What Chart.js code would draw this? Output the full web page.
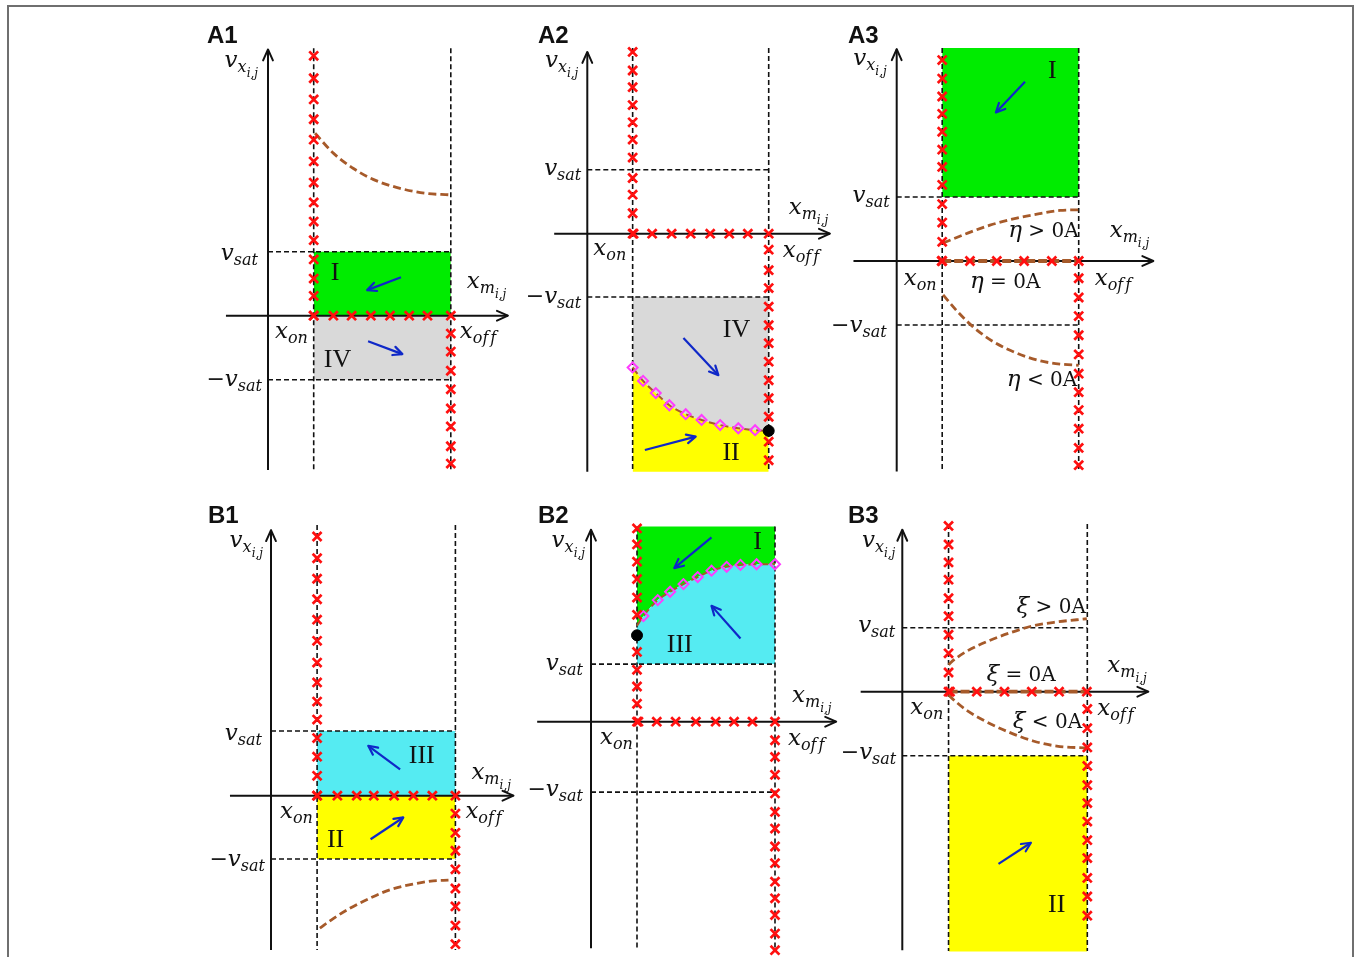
<!DOCTYPE html>
<html>
<head>
<meta charset="utf-8">
<script src="https://cdn.jsdelivr.net/npm/chart.js@4.4.1/dist/chart.umd.min.js"></script>
<style>
  html, body { margin: 0; padding: 0; background: #fff; width: 1356px; height: 957px; overflow: hidden; }
  #frame { position: absolute; left: 7px; top: 5px; width: 1347px; height: 1000px; border: 2px solid #6f6f6f; box-sizing: border-box; }
  canvas { position: absolute; }
</style>
</head>
<body>
<div id="frame"></div>
<script>
// Normalised coordinates: x_on = 1, x_off = 4, v_sat = 1 (y = 0 on the x_m axis)
const X_ON = 1, X_OFF = 4;

// ---------- A1 ----------
const A1_LEVELS = [1, -1];
const A1_XON_MARKS = [4.06, 3.71, 3.38, 3.07, 2.75, 2.41, 2.08, 1.77, 1.47, 1.18, 0.88, 0.58, 0.31, 0];
const A1_AXIS_MARKS = [1.0, 1.43, 1.83, 2.25, 2.67, 3.09, 3.49, 4.0];
const A1_XOFF_MARKS = [-0.28, -0.56, -0.86, -1.15, -1.45, -1.73, -2.04, -2.31];
const A1_CURVE_X = [1.03, 1.43, 1.87, 2.30, 2.89, 3.47, 3.95];
const A1_CURVE_Y = [2.85, 2.54, 2.30, 2.13, 1.99, 1.91, 1.89];
const A1_ARROWS = [[2.91, 0.60, 2.17, 0.40], [2.19, -0.40, 2.94, -0.60]];
const A1_ROMAN = [['I', 1.47, 0.66], ['IV', 1.52, -0.69]];

// ---------- A2 ----------
const A2_LEVELS = [1, -0.99];
const A2_XON_MARKS = [2.84, 2.55, 2.29, 2.01, 1.74, 1.47, 1.19, 0.87, 0.61, 0.32, 0];
const A2_AXIS_MARKS = [1.02, 1.43, 1.86, 2.28, 2.71, 3.13, 3.54, 4.0];
const A2_XOFF_MARKS = [-0.25, -0.57, -0.85, -1.14, -1.43, -1.71, -2.0, -2.29, -2.57, -2.86, -3.25, -3.54];
const A2_BOUND_X = [1.0, 1.23, 1.51, 1.81, 2.17, 2.52, 2.93, 3.33, 3.70, 4.0];
const A2_BOUND_Y = [-2.09, -2.30, -2.49, -2.68, -2.82, -2.91, -2.99, -3.04, -3.07, -3.08];
const A2_ARROWS = [[2.12, -1.63, 2.89, -2.21], [1.27, -3.38, 2.39, -3.17]];
const A2_ROMAN = [['IV', 3.29, -1.50], ['II', 3.17, -3.43]];

// ---------- A3 ----------
const A3_LEVELS = [1, -1];
const A3_XON_MARKS = [3.14, 2.85, 2.57, 2.30, 2.02, 1.74, 1.47, 1.19, 0.89, 0.60, 0.30, 0];
const A3_AXIS_MARKS = [0.99, 1.61, 2.20, 2.80, 3.41, 4.0];
const A3_XOFF_MARKS = [-0.27, -0.57, -0.86, -1.16, -1.46, -1.76, -2.05, -2.33, -2.62, -2.92, -3.19];
const A3_POS_X = [1.02, 1.54, 2.05, 2.64, 3.15, 3.59, 4.0];
const A3_POS_Y = [0.28, 0.43, 0.56, 0.67, 0.74, 0.79, 0.80];
const A3_NEG_X = [1.02, 1.31, 1.68, 2.12, 2.64, 3.15, 3.59, 4.0];
const A3_NEG_Y = [-0.53, -0.77, -1.03, -1.26, -1.44, -1.56, -1.61, -1.63];
const A3_ARROWS = [[2.82, 2.80, 2.18, 2.32]];
const A3_ROMAN = [['I', 3.42, 2.96]];

// ---------- B1 ----------
const B1_LEVELS = [1.01, -0.99];
const B1_XON_MARKS = [4.05, 3.71, 3.39, 3.07, 2.75, 2.42, 2.08, 1.77, 1.47, 1.19, 0.90, 0.61, 0.31, 0];
const B1_AXIS_MARKS = [1.0, 1.44, 1.86, 2.23, 2.67, 3.09, 3.50, 4.0];
const B1_XOFF_MARKS = [-0.28, -0.58, -0.86, -1.15, -1.45, -1.73, -2.03, -2.32];
const B1_CURVE_X = [1.06, 1.35, 1.71, 2.15, 2.58, 3.09, 3.52, 3.85];
const B1_CURVE_Y = [-2.07, -1.92, -1.76, -1.60, -1.47, -1.38, -1.33, -1.32];
const B1_ARROWS = [[2.80, 0.41, 2.11, 0.78], [2.16, -0.68, 2.87, -0.34]];
const B1_ROMAN = [['III', 3.27, 0.62], ['II', 1.40, -0.70]];

// ---------- B2 ----------
const B2_LEVELS = [0.90, -1.10];
const B2_XON_MARKS = [3.02, 2.77, 2.50, 2.23, 1.94, 1.67, 1.09, 0.81, 0.55, 0.28, 0];
const B2_AXIS_MARKS = [1.03, 1.43, 1.84, 2.28, 2.71, 3.11, 3.51, 4.0];
const B2_XOFF_MARKS = [-0.29, -0.55, -0.83, -1.12, -1.41, -1.67, -1.95, -2.21, -2.50, -2.76, -3.02, -3.31, -3.57];
const B2_BOUND_X = [1.0, 1.14, 1.45, 1.72, 2.01, 2.32, 2.62, 2.95, 3.25, 3.60, 4.0];
const B2_BOUND_Y = [1.50, 1.65, 1.90, 2.03, 2.15, 2.26, 2.36, 2.42, 2.45, 2.46, 2.46];
const B2_DOT = [1.0, 1.35];
const B2_ARROWS = [[2.62, 2.88, 1.81, 2.40], [3.25, 1.30, 2.62, 1.81]];
const B2_ROMAN = [['I', 3.62, 2.80], ['III', 1.93, 1.20]];

// ---------- B3 ----------
const B3_LEVELS = [1, -1];
const B3_XON_MARKS = [2.59, 2.30, 2.02, 1.75, 1.46, 1.18, 0.89, 0.60, 0.30, 0];
const B3_AXIS_MARKS = [1.03, 1.61, 2.21, 2.80, 3.39, 3.99];
const B3_XOFF_MARKS = [-0.27, -0.57, -0.87, -1.16, -1.46, -1.74, -2.03, -2.32, -2.60, -2.91, -3.20, -3.50];
const B3_CURVE_X = [1.0, 1.07, 1.39, 1.82, 2.33, 2.83, 3.34, 3.99];
const B3_POS_Y = [0.42, 0.47, 0.63, 0.78, 0.92, 1.03, 1.09, 1.14];
const B3_NEG_Y = [-0.05, -0.10, -0.29, -0.47, -0.64, -0.77, -0.85, -0.88];
const B3_ARROWS = [[2.08, -2.69, 2.78, -2.36]];
const B3_ROMAN = [['II', 3.34, -3.33]];

// ---------- styles ----------
const INK = '#111111', RED = '#ff1010', BROWN = '#a65a2a', MAGENTA = '#ff3cff', BLUE = '#0f28c8';
const GREEN = '#00ec00', GRAY = '#d9d9d9', YELLOW = '#ffff00', CYAN = '#55ebf2';
const DASH = [5, 3], BROWN_DASH = [8, 4];
const AXIS_TIP = { len: 12, spread: 0.42, width: 2 };
const ARROW_TIP = { len: 10, spread: 0.45, width: 2.2 };

const RUN_FONTS = {
  it:  { font: 'italic 23px "DejaVu Serif"', dy: 0 },
  sub: { font: 'italic 16px "DejaVu Serif"', dy: 5 },
  gap: { font: 'italic 6px "DejaVu Serif"', dy: 5 },
  ss:  { font: 'italic 12px "DejaVu Serif"', dy: 10 },
  rm:  { font: '22px "DejaVu Serif"', dy: 0 },
  tx:  { font: '20px "DejaVu Serif"', dy: 0 }
};
const VX = [['v', 'it'], ['x', 'sub'], ['i,j', 'ss']];
const VSAT = [['v', 'it'], ['sat', 'sub']];
const NVSAT = [['\u2212', 'rm'], ['v', 'it'], ['sat', 'sub']];
const XON_T = [['x', 'it'], ['on', 'sub']];
const XOFF_T = [['x', 'it'], ['of', 'sub'], [' ', 'gap'], ['f', 'sub']];
const XM = [['x', 'it'], ['m', 'sub'], ['i,j', 'ss']];

// ---------- helpers ----------
const pts = (xs, ys) => xs.map((x, i) => ({ x, y: ys[i] }));
const onX = (x, ys) => ys.map(y => ({ x, y }));
const onY = (y, xs) => xs.map(x => ({ x, y }));

function line(points, color, width, dash, extra) {
  return Object.assign({
    data: points, showLine: true, borderColor: color, borderWidth: width, borderDash: dash,
    pointRadius: 0, pointHoverRadius: 0, fill: false
  }, extra || {});
}
function area(points, color, toValue, smooth) {
  return {
    data: points, showLine: true, borderColor: 'rgba(0,0,0,0)', borderWidth: 1,
    backgroundColor: color, pointRadius: 0, pointHoverRadius: 0,
    cubicInterpolationMode: smooth ? 'monotone' : 'default',
    fill: { target: { value: toValue }, above: color, below: color }
  };
}
function markers(points, style, radius, color, width, fillColor) {
  return {
    data: points, showLine: false, pointStyle: style, pointRadius: radius, pointHoverRadius: radius,
    pointBorderColor: color, pointBorderWidth: width,
    pointBackgroundColor: fillColor || 'rgba(0,0,0,0)'
  };
}
function marksFor(xonYs, axisXs, xoffYs) {
  return [...onX(X_ON, xonYs), ...onY(0, axisXs), ...onX(X_OFF, xoffYs)];
}
function stdLabels(top, o) {
  return [
    { r: VX, at: [0, top], dx: o.vx[0], dy: o.vx[1], al: 'right' },
    { r: VSAT, at: [0, o.lv[0]], dx: o.vs[0], dy: o.vs[1], al: 'right' },
    { r: NVSAT, at: [0, o.lv[1]], dx: o.nv[0], dy: o.nv[1], al: 'right' },
    { r: XON_T, at: [0, 0], dx: o.on[0], dy: o.on[1] },
    { r: XOFF_T, at: [X_OFF, 0], dx: o.off[0], dy: o.off[1] },
    { r: XM, at: [X_OFF, 0], dx: o.xm[0], dy: o.xm[1] }
  ];
}

// ---------- panels ----------
const PANELS = [
  {
    id: 'A1', box: [195, 10, 335, 470], origin: [268, 315.7], unit: [45.7, 64], title: [207, 43],
    yAxis: [-2.41, 4.16], xAxis: [-0.92, 5.25], vLines: [4.18, -2.41], levels: A1_LEVELS,
    rects: [{ from: 0, to: A1_LEVELS[0], color: GREEN }, { from: 0, to: A1_LEVELS[1], color: GRAY }],
    curves: [{ points: pts(A1_CURVE_X, A1_CURVE_Y) }],
    marks: marksFor(A1_XON_MARKS, A1_AXIS_MARKS, A1_XOFF_MARKS),
    arrows: A1_ARROWS, roman: A1_ROMAN,
    labels: stdLabels(4.16, { lv: A1_LEVELS, vx: [-10, 18], vs: [-10, 8], nv: [-6, 6], on: [7, 22], off: [9, 22], xm: [16, -28] })
  },
  {
    id: 'A2', box: [520, 10, 330, 470], origin: [587.3, 233.7], unit: [45.35, 64], title: [538, 43],
    yAxis: [-3.72, 2.84], xAxis: [-0.73, 5.35], vLines: [2.90, -3.72], levels: A2_LEVELS,
    curveAreas: [
      { points: pts(A2_BOUND_X, A2_BOUND_Y), to: A2_LEVELS[1], color: GRAY },
      { points: pts(A2_BOUND_X, A2_BOUND_Y), to: -3.72, color: YELLOW }
    ],
    curves: [{ points: pts(A2_BOUND_X, A2_BOUND_Y), width: 2 }],
    diamonds: pts(A2_BOUND_X.slice(0, -1), A2_BOUND_Y.slice(0, -1)),
    dot: { x: A2_BOUND_X[A2_BOUND_X.length - 1], y: A2_BOUND_Y[A2_BOUND_Y.length - 1] },
    marks: marksFor(A2_XON_MARKS, A2_AXIS_MARKS, A2_XOFF_MARKS),
    arrows: A2_ARROWS, roman: A2_ROMAN,
    labels: stdLabels(2.84, { lv: A2_LEVELS, vx: [-9, 15], vs: [-6, 5], nv: [-6, 6], on: [6, 21], off: [14, 23], xm: [20, -20] })
  },
  {
    id: 'A3', box: [825, 10, 350, 470], origin: [896.7, 261], unit: [45.5, 64], title: [848, 43],
    yAxis: [-3.29, 3.31], xAxis: [-0.95, 5.64], vLines: [3.33, -3.29], levels: A3_LEVELS,
    rects: [{ from: A3_LEVELS[0], to: 3.33, color: GREEN }],
    curves: [
      { points: pts(A3_POS_X, A3_POS_Y) },
      { points: onY(0, [X_ON, X_OFF]), width: 3.8, dash: [9, 3] },
      { points: pts(A3_NEG_X, A3_NEG_Y) }
    ],
    marks: marksFor(A3_XON_MARKS, A3_AXIS_MARKS, A3_XOFF_MARKS),
    arrows: A3_ARROWS, roman: A3_ROMAN,
    labels: stdLabels(3.31, { lv: A3_LEVELS, vx: [-10, 16], vs: [-7, 5], nv: [-10, 7], on: [7, 24], off: [16, 24], xm: [31, -24] }).concat([
      { r: [['\u03b7', 'it'], [' > 0A', 'tx']], at: [2.45, 0.38], dx: 0, dy: 0 },
      { r: [['\u03b7', 'it'], [' = 0A', 'tx']], at: [1.61, -0.42], dx: 0, dy: 0 },
      { r: [['\u03b7', 'it'], [' < 0A', 'tx']], at: [2.42, -1.96], dx: 0, dy: 0 }
    ])
  },
  {
    id: 'B1', box: [195, 490, 335, 467], origin: [271, 795.7], unit: [46.1, 64], title: [208, 523],
    yAxis: [-2.41, 4.15], xAxis: [-0.89, 5.26], vLines: [4.23, -2.41], levels: B1_LEVELS,
    rects: [{ from: 0, to: B1_LEVELS[0], color: CYAN }, { from: 0, to: B1_LEVELS[1], color: YELLOW }],
    curves: [{ points: pts(B1_CURVE_X, B1_CURVE_Y) }],
    marks: marksFor(B1_XON_MARKS, B1_AXIS_MARKS, B1_XOFF_MARKS),
    arrows: B1_ARROWS, roman: B1_ROMAN,
    labels: stdLabels(4.15, { lv: B1_LEVELS, vx: [-8, 17], vs: [-9, 9], nv: [-6, 7], on: [9, 22], off: [10, 22], xm: [16, -17] })
  },
  {
    id: 'B2', box: [520, 490, 330, 467], origin: [591, 721.7], unit: [46, 64], title: [538, 523],
    yAxis: [-3.54, 3.0], xAxis: [-1.17, 5.33], vLines: [3.05, -3.57], levels: B2_LEVELS,
    curveAreas: [
      { points: pts(B2_BOUND_X, B2_BOUND_Y), to: 3.05, color: GREEN },
      { points: pts(B2_BOUND_X, B2_BOUND_Y), to: B2_LEVELS[0], color: CYAN }
    ],
    curves: [{ points: pts(B2_BOUND_X, B2_BOUND_Y), width: 2 }],
    diamonds: pts(B2_BOUND_X.slice(1), B2_BOUND_Y.slice(1)),
    dot: { x: B2_DOT[0], y: B2_DOT[1] },
    marks: marksFor(B2_XON_MARKS, B2_AXIS_MARKS, B2_XOFF_MARKS),
    arrows: B2_ARROWS, roman: B2_ROMAN,
    labels: stdLabels(3.0, { lv: B2_LEVELS, vx: [-6, 17], vs: [-8, 6], nv: [-8, 4], on: [9, 22], off: [13, 23], xm: [17, -20] })
  },
  {
    id: 'B3', box: [825, 490, 350, 467], origin: [902.3, 691.7], unit: [46.25, 64], title: [848, 523],
    yAxis: [-4.04, 2.53], xAxis: [-0.90, 5.32], vLines: [2.62, -4.05], levels: B3_LEVELS,
    rects: [{ from: B3_LEVELS[1], to: -4.06, color: YELLOW }],
    curves: [
      { points: pts(B3_CURVE_X, B3_POS_Y) },
      { points: onY(0, [X_ON, X_OFF]), width: 3.8, dash: [9, 3] },
      { points: pts(B3_CURVE_X, B3_NEG_Y) }
    ],
    marks: marksFor(B3_XON_MARKS, B3_AXIS_MARKS, B3_XOFF_MARKS),
    arrows: B3_ARROWS, roman: B3_ROMAN,
    labels: stdLabels(2.53, { lv: B3_LEVELS, vx: [-7, 17], vs: [-7, 4], nv: [-6, 3], on: [8, 22], off: [10, 23], xm: [20, -20] }).concat([
      { r: [['\u03be', 'it'], [' > 0A', 'tx']], at: [2.47, 1.23], dx: 0, dy: 0 },
      { r: [['\u03be', 'it'], [' = 0A', 'tx']], at: [1.82, 0.16], dx: 0, dy: 0 },
      { r: [['\u03be', 'it'], [' < 0A', 'tx']], at: [2.39, -0.57], dx: 0, dy: 0 }
    ])
  }
];

// ---------- datasets (listed bottom layer first, reversed for Chart.js paint order) ----------
function buildDatasets(p) {
  const layers = [];
  (p.rects || []).forEach(r => layers.push(area(onY(r.to, [X_ON, X_OFF]), r.color, r.from, false)));
  (p.curveAreas || []).forEach(r => layers.push(area(r.points, r.color, r.to, true)));
  p.levels.forEach(v => layers.push(line(onY(v, [0, X_OFF]), INK, 1.6, DASH)));
  [X_ON, X_OFF].forEach(x => layers.push(line(onX(x, p.vLines), INK, 1.6, DASH)));
  layers.push(line(onX(0, p.yAxis), INK, 2, [], { tip: AXIS_TIP }));
  layers.push(line(onY(0, p.xAxis), INK, 2, [], { tip: AXIS_TIP }));
  (p.curves || []).forEach(c => layers.push(line(c.points, BROWN, c.width || 2.8, c.dash || BROWN_DASH, { cubicInterpolationMode: 'monotone' })));
  if (p.diamonds) layers.push(markers(p.diamonds, 'rectRot', 5, MAGENTA, 2));
  layers.push(markers(p.marks, 'crossRot', 6.3, RED, 2.7));
  if (p.dot) layers.push(markers([p.dot], 'circle', 5.5, '#000', 1, '#000'));
  p.arrows.forEach(a => layers.push(line([{ x: a[0], y: a[1] }, { x: a[2], y: a[3] }], BLUE, 2.2, [], { tip: ARROW_TIP })));
  return layers.reverse();
}

// open arrow heads at the last point of flagged line datasets
const arrowTips = {
  id: 'arrowTips',
  afterDatasetsDraw(chart) {
    const ctx = chart.ctx;
    chart.data.datasets.forEach((ds, i) => {
      if (!ds.tip) return;
      const el = chart.getDatasetMeta(i).data;
      const a = el[el.length - 2], b = el[el.length - 1];
      const ang = Math.atan2(b.y - a.y, b.x - a.x);
      const t = ds.tip;
      ctx.save();
      ctx.strokeStyle = ds.borderColor;
      ctx.lineWidth = t.width;
      ctx.lineCap = 'round';
      ctx.lineJoin = 'round';
      ctx.beginPath();
      ctx.moveTo(b.x - t.len * Math.cos(ang - t.spread), b.y - t.len * Math.sin(ang - t.spread));
      ctx.lineTo(b.x, b.y);
      ctx.lineTo(b.x - t.len * Math.cos(ang + t.spread), b.y - t.len * Math.sin(ang + t.spread));
      ctx.stroke();
      ctx.restore();
    });
  }
};

function drawRuns(ctx, x, y, runs, align) {
  let w = 0;
  runs.forEach(([t, s]) => { ctx.font = RUN_FONTS[s].font; w += ctx.measureText(t).width; });
  let cx = align === 'right' ? x - w : x;
  runs.forEach(([t, s]) => {
    ctx.font = RUN_FONTS[s].font;
    ctx.fillText(t, cx, y + RUN_FONTS[s].dy);
    cx += ctx.measureText(t).width;
  });
}

function textPlugin(p) {
  return {
    id: 'panelText',
    afterDatasetsDraw(chart) {
      const ctx = chart.ctx, xs = chart.scales.x, ys = chart.scales.y;
      ctx.save();
      ctx.fillStyle = INK;
      ctx.textAlign = 'left';
      ctx.textBaseline = 'alphabetic';
      ctx.font = 'bold 24px "Liberation Sans"';
      ctx.fillText(p.id, p.title[0] - p.box[0], p.title[1] - p.box[1]);
      p.labels.forEach(l => {
        drawRuns(ctx, xs.getPixelForValue(l.at[0]) + l.dx, ys.getPixelForValue(l.at[1]) + l.dy, l.r, l.al);
      });
      ctx.font = '26px "Liberation Serif"';
      ctx.textAlign = 'center';
      ctx.textBaseline = 'middle';
      p.roman.forEach(([t, x, y]) => ctx.fillText(t, xs.getPixelForValue(x), ys.getPixelForValue(y)));
      ctx.restore();
    }
  };
}

PANELS.forEach(p => {
  const [left, top, w, h] = p.box;
  const cv = document.createElement('canvas');
  cv.width = w; cv.height = h;
  cv.style.left = left + 'px'; cv.style.top = top + 'px';
  cv.style.width = w + 'px'; cv.style.height = h + 'px';
  document.body.appendChild(cv);
  const [ox, oy] = p.origin, [kx, ky] = p.unit;
  new Chart(cv, {
    type: 'scatter',
    data: { datasets: buildDatasets(p) },
    options: {
      responsive: false, animation: false, events: [], devicePixelRatio: 1,
      layout: { padding: 0, autoPadding: false },
      plugins: { legend: { display: false }, tooltip: { enabled: false } },
      scales: {
        x: { type: 'linear', display: false, min: (left - ox) / kx, max: (left + w - ox) / kx },
        y: { type: 'linear', display: false, min: (oy - top - h) / ky, max: (oy - top) / ky }
      }
    },
    plugins: [arrowTips, textPlugin(p)]
  });
});
</script>
</body>
</html>
